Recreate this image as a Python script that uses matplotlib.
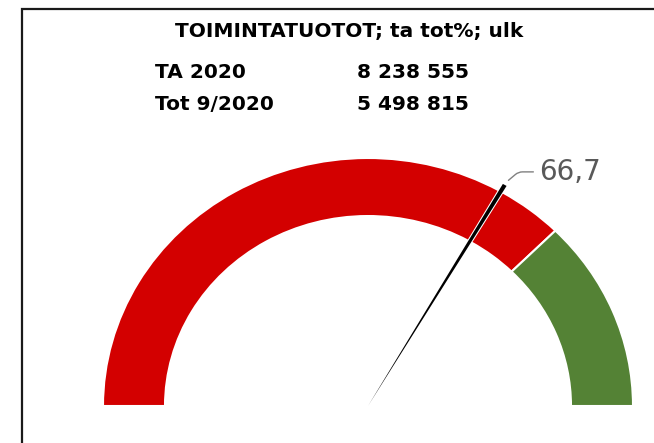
"""Gauge: TOIMINTATUOTOT; ta tot%; ulk."""

import matplotlib
matplotlib.use('Agg')
import matplotlib.pyplot as plt
from matplotlib.patches import Wedge, Rectangle

plt.rcParams['font.family'] = ['DejaVu Sans']

title = 'TOIMINTATUOTOT; ta tot%; ulk'
row_labels = ['TA 2020', 'Tot 9/2020']
row_values = ['8 238 555', '5 498 815']

# gauge bands (percent of full scale) and needle value
band_edges = [0, 75, 100]
band_colors = ['#d30000', '#548235']
value = 66.7
value_label = '66,7'


def ang(v):
    """Percent -> angle in degrees (0 % on the left, 100 % on the right)."""
    return 180 - 1.8 * v


fig = plt.figure(figsize=(6.54, 4.43), dpi=100)
W, H = 654, 443

# frame
fig.add_artist(Rectangle((22 / W, -0.1), 1.0, (H - 9) / H + 0.1,
                         transform=fig.transFigure, fill=False,
                         lw=1.6, ec='#1a1a1a'))

fig.text(349 / W, 1 - 32 / H, title, ha='center', va='center',
         fontsize=14.5, fontweight='bold')
for i, (lab, val) in enumerate(zip(row_labels, row_values)):
    y = 1 - (72 + 32 * i) / H
    fig.text(155 / W, y, lab, ha='left', va='center', fontsize=14.5, fontweight='bold')
    fig.text(357 / W, y, val, ha='left', va='center', fontsize=14.5, fontweight='bold')

# gauge axes: x -1..1 -> 103..633 px, y 0..1 -> 406..158 px
ax = fig.add_axes([103 / W, (H - 406) / H, 530 / W, 248 / H])
ax.set_xlim(-1, 1)
ax.set_ylim(0, 1)
ax.axis('off')

ring = 0.234
needle_w = 0.5

# red band split by the needle, then the remaining bands
segments = [(band_edges[0], value - needle_w / 2, band_colors[0]),
            (value + needle_w / 2, band_edges[1], band_colors[0]),
            (band_edges[1], band_edges[2], band_colors[1])]
for a, b, c in segments:
    ax.add_patch(Wedge((0, 0), 1, ang(b), ang(a), width=ring, fc=c,
                       ec='white', lw=1.5, clip_on=False))

ax.add_patch(Wedge((0, 0), 1.03, ang(value + needle_w / 2), ang(value - needle_w / 2),
                   fc='black', ec='none', clip_on=False))

ax.annotate(value_label, xy=(0.53, 0.91), xytext=(0.645, 0.944),
            textcoords='data', ha='left', va='center', fontsize=20,
            color='#595959', annotation_clip=False,
            arrowprops=dict(arrowstyle='-', color='#808080', lw=1,
                            connectionstyle='angle,angleA=0,angleB=40,rad=4',
                            shrinkA=2, shrinkB=0))

fig.savefig('out.png', dpi=100)
